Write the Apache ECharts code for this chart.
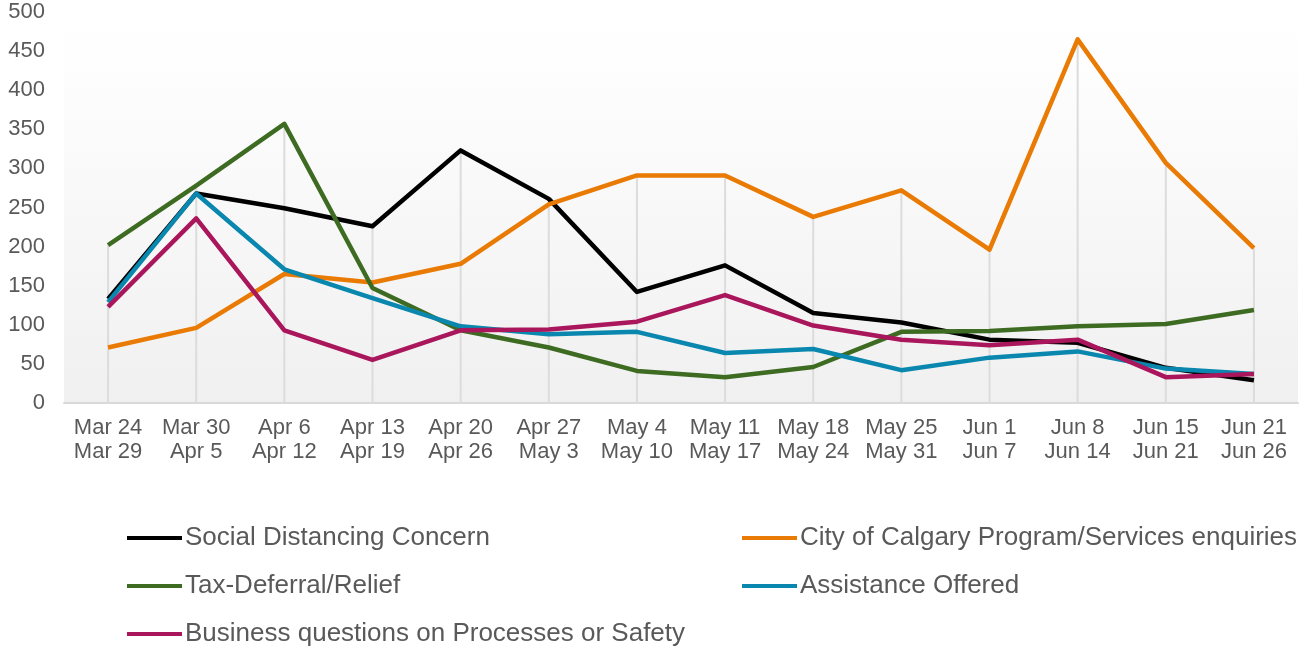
<!DOCTYPE html>
<html>
<head>
<meta charset="utf-8">
<script src="https://cdn.jsdelivr.net/npm/echarts@6/dist/echarts.min.js"></script>
<style>
  html, body { margin: 0; padding: 0; background: #fff; }
  #chart { width: 1309px; height: 647px; }
</style>
</head>
<body>
<div id="chart"></div>
<script>
// weeks (two-line labels)
var weeks = ['Mar 24\nMar 29', 'Mar 30\nApr 5', 'Apr 6\nApr 12', 'Apr 13\nApr 19', 'Apr 20\nApr 26',
  'Apr 27\nMay 3', 'May 4\nMay 10', 'May 11\nMay 17', 'May 18\nMay 24', 'May 25\nMay 31',
  'Jun 1\nJun 7', 'Jun 8\nJun 14', 'Jun 15\nJun 21', 'Jun 21\nJun 26'];

var socialDistancing = [133, 268, 249, 226, 323, 261, 142, 176, 115, 103, 81, 77, 45, 29];
var cityPrograms     = [71, 96, 165, 154, 178, 254, 291, 291, 238, 272, 196, 465, 307, 198];
var taxDeferral      = [202, 278, 357, 147, 93, 71, 41, 33, 46, 91, 92, 98, 101, 119];
var assistance       = [129, 268, 171, 134, 98, 88, 91, 64, 69, 42, 58, 66, 44, 37];
var businessQs       = [123, 236, 93, 55, 93, 94, 104, 138, 99, 81, 74, 81, 33, 37];

var names = ['Social Distancing Concern', 'City of Calgary Program/Services enquiries',
  'Tax-Deferral/Relief', 'Assistance Offered', 'Business questions on Processes or Safety'];
var colors = ['#000000', '#e97a04', '#3e6b22', '#0a87ae', '#a9165b'];
var allSeries = [socialDistancing, cityPrograms, taxDeferral, assistance, businessQs];

// drop lines: highest value of each week
var dropTops = weeks.map(function (w, i) {
  return Math.max.apply(null, allSeries.map(function (s) { return s[i]; }));
});

var font = 'Liberation Sans, Arial, sans-serif';
var textColor = '#595959';

var chart = echarts.init(document.getElementById('chart'));

var lineSeries = allSeries.map(function (data, i) {
  return {
    name: names[i],
    type: 'line',
    data: data,
    showSymbol: false,
    symbol: 'none',
    z: 3,
    lineStyle: { width: 4.5, color: colors[i], join: 'round' },
    itemStyle: { color: colors[i] }
  };
});

var legendBase = {
  orient: 'vertical',
  top: 525,
  height: 200,
  padding: 0,
  icon: 'rect',
  itemWidth: 55,
  itemHeight: 4,
  itemGap: 22,
  textStyle: { fontSize: 26, color: textColor, fontFamily: font, padding: [0, 0, 0, -2], lineHeight: 26 }
};

chart.setOption({
  animation: false,
  backgroundColor: '#fff',
  grid: {
    left: 64, right: 11, top: 12, bottom: 244,
    show: true,
    borderWidth: 0,
    backgroundColor: new echarts.graphic.LinearGradient(0, 0, 0, 1, [
      { offset: 0, color: '#ffffff' },
      { offset: 0.12, color: '#fefefe' },
      { offset: 1, color: '#f0f0f0' }
    ])
  },
  legend: [
    Object.assign({}, legendBase, { left: 127, data: [names[0], names[2], names[4]] }),
    Object.assign({}, legendBase, { left: 742, data: [names[1], names[3]] })
  ],
  xAxis: {
    type: 'category',
    data: weeks,
    boundaryGap: true,
    axisLine: { lineStyle: { color: '#d9d9d9', width: 2 } },
    axisTick: { show: false },
    axisLabel: { fontSize: 22, color: textColor, fontFamily: font, lineHeight: 24, margin: 13, interval: 0 },
    splitLine: { show: false }
  },
  yAxis: {
    type: 'value',
    min: 0, max: 500, interval: 50,
    axisLine: { show: false },
    axisTick: { show: false },
    splitLine: { show: false },
    axisLabel: { fontSize: 22, color: textColor, fontFamily: font, margin: 19 }
  },
  series: [{
    name: 'drop',
    type: 'bar',
    data: dropTops,
    barWidth: 2,
    silent: true,
    z: 1,
    itemStyle: { color: '#dcdcdc' }
  }].concat(lineSeries)
});
</script>
</body>
</html>
